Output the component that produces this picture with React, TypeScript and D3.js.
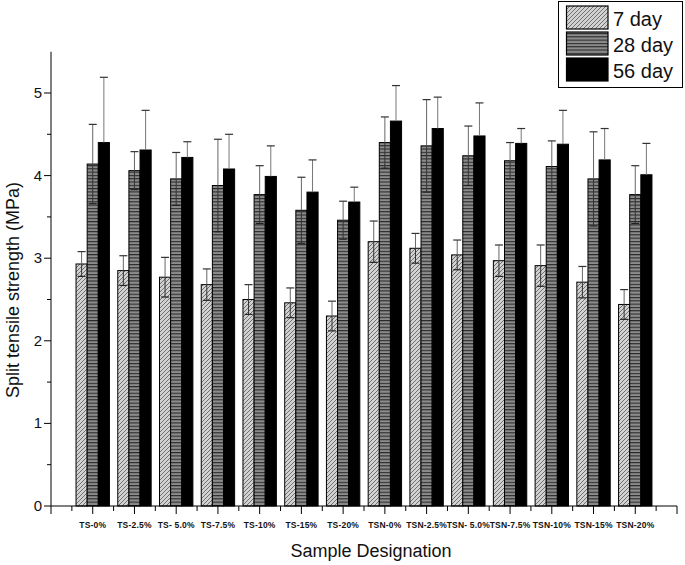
import React from 'react';
import * as d3 from 'd3';

const categories = ['TS-0%', 'TS-2.5%', 'TS- 5.0%', 'TS-7.5%', 'TS-10%', 'TS-15%', 'TS-20%', 'TSN-0%', 'TSN-2.5%', 'TSN- 5.0%', 'TSN-7.5%', 'TSN-10%', 'TSN-15%', 'TSN-20%'];
const day7 = [2.93, 2.85, 2.77, 2.68, 2.50, 2.46, 2.30, 3.20, 3.12, 3.04, 2.97, 2.91, 2.71, 2.44];
const err7 = [0.15, 0.18, 0.24, 0.19, 0.18, 0.18, 0.18, 0.25, 0.18, 0.18, 0.19, 0.25, 0.19, 0.18];
const day28 = [4.14, 4.06, 3.96, 3.88, 3.77, 3.58, 3.46, 4.40, 4.36, 4.24, 4.18, 4.11, 3.96, 3.77];
const err28 = [0.48, 0.23, 0.32, 0.56, 0.35, 0.40, 0.23, 0.31, 0.56, 0.36, 0.22, 0.31, 0.57, 0.35];
const day56 = [4.40, 4.31, 4.22, 4.08, 3.99, 3.80, 3.68, 4.66, 4.57, 4.48, 4.39, 4.38, 4.19, 4.01];
const err56 = [0.79, 0.48, 0.19, 0.42, 0.37, 0.39, 0.18, 0.43, 0.38, 0.40, 0.18, 0.41, 0.38, 0.38];
const seriesNames = ['7 day', '28 day', '56 day'];
const yTicks = [0, 1, 2, 3, 4, 5];

const FONT = "'Liberation Sans', Arial, sans-serif";

export default function App() {
  const W = 685, H = 565;
  const x = d3.scaleLinear().domain([0, 15]).range([51, 677]);
  const y = d3.scaleLinear().domain([0, 5.5]).range([506, 51.7]);
  const step = x(1) - x(0);
  const bw = (step * 0.8) / 3;
  const series = [
    { vals: day7, errs: err7, fill: 'url(#hatch7)' },
    { vals: day28, errs: err28, fill: 'url(#stripe28)' },
    { vals: day56, errs: err56, fill: '#000' },
  ];
  const xMajor = d3.range(0, 16);
  const xMinor = d3.range(0.5, 15, 1);
  const yMinor = d3.range(0.5, 5.5, 1);

  return (
    <svg width={W} height={H} style={{ position: 'absolute', left: 0, top: 0, background: '#fff' }} fontFamily={FONT}>
      <defs>
        <pattern id="hatch7" patternUnits="userSpaceOnUse" width={4} height={4}>
          <rect width={4} height={4} fill="#d2d2d2" />
          <path d="M-1,1 l2,-2 M0,4 l4,-4 M3,5 l2,-2" stroke="#555" strokeWidth={0.8} />
        </pattern>
        <pattern id="stripe28" patternUnits="userSpaceOnUse" width={4} height={3.3}>
          <rect width={4} height={3.3} fill="#8c8c8c" />
          <rect y={0} width={4} height={1.1} fill="#2a2a2a" />
        </pattern>
      </defs>

      {/* bars */}
      {series.map((s, si) =>
        s.vals.map((v, i) => {
          const cx = x(i + 1);
          const x0 = cx - 1.5 * bw + si * bw;
          return (
            <rect key={`b${si}-${i}`} x={x0} y={y(v)} width={bw} height={y(0) - y(v)} fill={s.fill} stroke="#000" strokeWidth={1} />
          );
        })
      )}
      {/* error bars */}
      {series.map((s, si) =>
        s.vals.map((v, i) => {
          const cx = x(i + 1) - 1.5 * bw + si * bw + bw / 2;
          const top = y(v + s.errs[i]);
          const bot = y(v - s.errs[i]);
          const lc = si === 2 ? '#777' : '#666';
          return (
            <g key={`e${si}-${i}`}>
              <line x1={cx} x2={cx} y1={top} y2={y(v)} stroke={lc} strokeWidth={1} />
              {si !== 2 && <line x1={cx} x2={cx} y1={y(v)} y2={bot} stroke="#333" strokeWidth={1} />}
              <line x1={cx - 4} x2={cx + 4} y1={top} y2={top} stroke="#333" strokeWidth={1.2} />
              {si !== 2 && <line x1={cx - 4} x2={cx + 4} y1={bot} y2={bot} stroke="#222" strokeWidth={1.2} />}
            </g>
          );
        })
      )}

      {/* axes */}
      <line x1={x(0)} x2={x(15)} y1={y(0)} y2={y(0)} stroke="#000" strokeWidth={1} />
      <line x1={x(0)} x2={x(0)} y1={y(0)} y2={y(5.5)} stroke="#000" strokeWidth={1} />
      {xMajor.map((t) => (
        <line key={`xm${t}`} x1={x(t)} x2={x(t)} y1={y(0)} y2={y(0) + 8} stroke="#000" />
      ))}
      {xMinor.map((t) => (
        <line key={`xn${t}`} x1={x(t)} x2={x(t)} y1={y(0)} y2={y(0) + 5} stroke="#000" />
      ))}
      {yTicks.map((t) => (
        <g key={`yt${t}`}>
          <line x1={x(0) - 7} x2={x(0)} y1={y(t)} y2={y(t)} stroke="#000" />
          <text x={x(0) - 9} y={y(t) + 5} textAnchor="end" fontSize={15} fill="#111">{t}</text>
        </g>
      ))}
      {yMinor.map((t) => (
        <line key={`yn${t}`} x1={x(0) - 4} x2={x(0)} y1={y(t)} y2={y(t)} stroke="#000" />
      ))}
      {categories.map((c, i) => (
        <text key={`xl${i}`} x={x(i + 1)} y={528} textAnchor="middle" fontSize={8.5} fontWeight="bold" letterSpacing={0.2} fill="#111">{c}</text>
      ))}

      {/* axis titles */}
      <text x={371} y={557} textAnchor="middle" fontSize={18} fill="#111">Sample Designation</text>
      <text transform={`translate(19,290) rotate(-90)`} textAnchor="middle" fontSize={18} fill="#111">Split tensile strength (MPa)</text>

      {/* legend */}
      <rect x={558.5} y={1.5} width={124} height={86} fill="#fff" stroke="#000" strokeWidth={1} />
      {seriesNames.map((n, i) => {
        const ys = [6, 32, 58][i];
        const fill = series[i].fill;
        return (
          <g key={`lg${i}`}>
            <rect x={566.5} y={ys} width={41.5} height={23} fill={fill} stroke="#000" strokeWidth={1.2} />
            <text x={613} y={ys + 20} fontSize={20} fill="#111">{n}</text>
          </g>
        );
      })}
    </svg>
  );
}
